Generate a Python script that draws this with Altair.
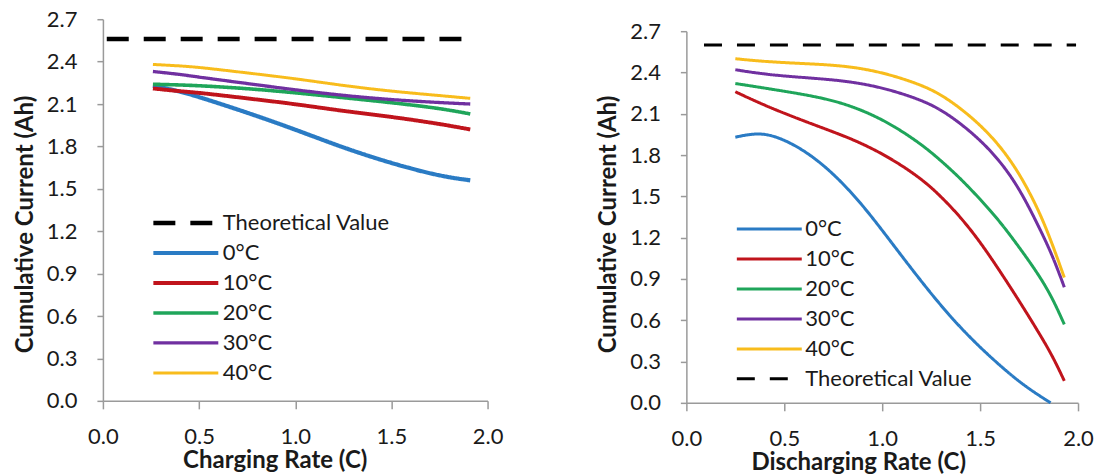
import altair as alt
import pandas as pd

# ---------------- data ----------------
series_names = ["Theoretical Value", "0°C", "10°C", "20°C", "30°C", "40°C"]
series_colors = ["#000000", "#2A7BC4", "#C0141C", "#1FA55A", "#7030A0", "#F8BC1C"]

# Left panel: charging
chg_theory_x = [0.02, 1.93]
chg_theory_y = [2.56, 2.56]
chg_x = [0.26, 0.4, 0.5, 0.75, 1.0, 1.25, 1.5, 1.75, 1.91]
chg_0 = [2.23, 2.19, 2.15, 2.04, 1.92, 1.79, 1.68, 1.59, 1.56]
chg_10 = [2.21, 2.19, 2.18, 2.14, 2.10, 2.05, 2.01, 1.96, 1.92]
chg_20 = [2.24, 2.235, 2.23, 2.21, 2.18, 2.145, 2.11, 2.07, 2.03]
chg_30 = [2.33, 2.31, 2.29, 2.245, 2.20, 2.16, 2.13, 2.11, 2.10]
chg_40 = [2.38, 2.37, 2.36, 2.32, 2.28, 2.23, 2.19, 2.16, 2.14]

# Right panel: discharging
dis_theory_x = [0.09, 1.99]
dis_theory_y = [2.6, 2.6]
dis_0_x = [0.25, 0.35, 0.45, 0.6, 0.75, 0.9, 1.05, 1.2, 1.35, 1.5, 1.65, 1.75, 1.86]
dis_0_y = [1.93, 1.96, 1.945, 1.84, 1.67, 1.44, 1.16, 0.88, 0.62, 0.40, 0.21, 0.10, 0.0]
dis_10_x = [0.25, 0.43, 0.69, 0.86, 1.03, 1.2, 1.3, 1.4, 1.5, 1.6, 1.7, 1.8, 1.87, 1.93]
dis_10_y = [2.26, 2.14, 2.0, 1.91, 1.79, 1.63, 1.50, 1.35, 1.17, 0.96, 0.74, 0.51, 0.34, 0.16]
dis_20_x = [0.25, 0.43, 0.69, 0.86, 1.03, 1.2, 1.3, 1.4, 1.5, 1.6, 1.7, 1.8, 1.87, 1.93]
dis_20_y = [2.32, 2.28, 2.22, 2.15, 2.04, 1.88, 1.76, 1.63, 1.48, 1.32, 1.13, 0.93, 0.76, 0.57]
dis_30_x = [0.25, 0.43, 0.69, 0.86, 1.03, 1.2, 1.3, 1.4, 1.5, 1.6, 1.7, 1.8, 1.87, 1.93]
dis_30_y = [2.42, 2.38, 2.355, 2.33, 2.28, 2.20, 2.13, 2.03, 1.91, 1.76, 1.56, 1.28, 1.07, 0.84]
dis_40_x = [0.25, 0.43, 0.69, 0.86, 1.03, 1.2, 1.3, 1.4, 1.5, 1.6, 1.7, 1.8, 1.87, 1.93]
dis_40_y = [2.50, 2.475, 2.46, 2.44, 2.39, 2.31, 2.24, 2.14, 2.02, 1.87, 1.67, 1.40, 1.15, 0.91]

x_ticks = [0.0, 0.5, 1.0, 1.5, 2.0]
y_ticks = [0.0, 0.3, 0.6, 0.9, 1.2, 1.5, 1.8, 2.1, 2.4, 2.7]


def frame(pairs):
    rows = []
    for name, xs, ys in pairs:
        for xv, yv in zip(xs, ys):
            rows.append({"x": xv, "y": yv, "series": name})
    return pd.DataFrame(rows)


chg_df = frame([
    ("Theoretical Value", chg_theory_x, chg_theory_y),
    ("0°C", chg_x, chg_0), ("10°C", chg_x, chg_10), ("20°C", chg_x, chg_20),
    ("30°C", chg_x, chg_30), ("40°C", chg_x, chg_40),
])
dis_df = frame([
    ("0°C", dis_0_x, dis_0_y), ("10°C", dis_10_x, dis_10_y), ("20°C", dis_20_x, dis_20_y),
    ("30°C", dis_30_x, dis_30_y), ("40°C", dis_40_x, dis_40_y),
    ("Theoretical Value", dis_theory_x, dis_theory_y),
])

FONT = "Lato"
TXT = "#1a1a1a"
color_of = dict(zip(series_names, series_colors))


def panel(df, order, dash, xtitle, width, height, yrange, lx, ly):
    legend = alt.Legend(
        title=None, orient="none", legendX=lx, legendY=ly,
        symbolType="stroke", symbolSize=4225, symbolStrokeWidth=3.5,
        labelFont=FONT, labelFontSize=22, labelColor=TXT, labelOffset=2, labelLimit=400,
        clipHeight=30, rowPadding=0, padding=0,
    )
    cscale = alt.Scale(domain=order, range=[color_of[s] for s in order])
    dscale = alt.Scale(domain=order, range=[dash if s == "Theoretical Value" else [1, 0] for s in order])
    wscale = alt.Scale(domain=order, range=[4.5 if s == "Theoretical Value" else 3 for s in order])
    return alt.Chart(df).mark_line(interpolate="basis").encode(
        x=alt.X("x:Q", scale=alt.Scale(domain=[0, 2], nice=False),
                axis=alt.Axis(values=x_ticks, format=".1f", title=xtitle, titleX=172,
                              titleAnchor="start", titleAlign="center")),
        y=alt.Y("y:Q", scale=alt.Scale(domain=[0, 2.7], nice=False, range=yrange),
                axis=alt.Axis(values=y_ticks, format=".1f", title="Cumulative Current (Ah)",
                              titleY=205, titleAnchor="start", titleAlign="center")),
        color=alt.Color("series:N", scale=cscale, legend=legend),
        strokeDash=alt.StrokeDash("series:N", scale=dscale, legend=legend),
        strokeWidth=alt.StrokeWidth("series:N", scale=wscale, legend=None),
    ).properties(width=width, height=height)


left = panel(chg_df, series_names, [22, 15], "Charging Rate (C)", 385, 382, [382, 0], 48, 189)
right = panel(dis_df, series_names[1:] + series_names[:1], [18, 15], "Discharging Rate (C)",
              392, 384, [384, 12], 49, 195)

chart = alt.hconcat(left, right, spacing=93).resolve_scale(
    color="independent", strokeDash="independent", strokeWidth="independent"
).properties(
    padding={"left": 5, "top": 0, "right": 0, "bottom": 0},
    background="white",
).configure_view(stroke=None).configure_axis(
    grid=False,
    domainColor="#9a9a9a", domainWidth=1.5, tickColor="#9a9a9a", tickWidth=1.5,
    labelFont=FONT, labelFontSize=22, labelColor=TXT, labelFlush=False, labelOverlap=False,
    titleFont=FONT, titleFontSize=24, titleFontWeight="bold", titleColor=TXT,
).configure_axisY(
    tickSize=6, labelPadding=20, titlePadding=9,
).configure_axisX(
    tickSize=8, labelPadding=18, titlePadding=1,
)

chart.save("out.html", embed_options={"renderer": "svg", "actions": False})
